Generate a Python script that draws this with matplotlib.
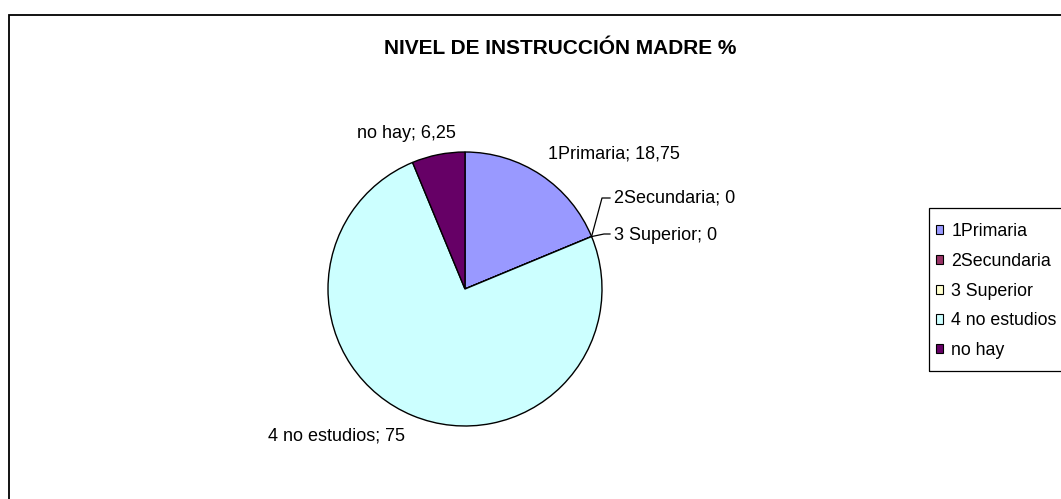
import numpy as np
import matplotlib
matplotlib.use("Agg")
import matplotlib.pyplot as plt
from matplotlib.patches import Patch, Rectangle

plt.rcParams['font.family'] = ['Liberation Sans', 'DejaVu Sans']

# data
categorias = ['1Primaria', '2Secundaria', '3 Superior', '4 no estudios', 'no hay']
valores = [18.75, 0, 0, 75, 6.25]
etiquetas_valor = ['18,75', '0', '0', '75', '6,25']
colores = ['#9999FF', '#993366', '#FFFFCC', '#CCFFFF', '#660066']
titulo = 'NIVEL DE INSTRUCCIÓN MADRE %'

W, H = 1061, 499
fig = plt.figure(figsize=(W / 100, H / 100), dpi=100)

def fig_rect(x0, y0, x1, y1, **kw):
    # rectangle given in image pixel coords (y downwards)
    fig.patches.append(Rectangle((x0 / W, 1 - y1 / H), (x1 - x0) / W, (y1 - y0) / H,
                                 transform=fig.transFigure, fill=False,
                                 edgecolor='black', **kw))

# outer chart border (right/bottom edges fall outside the image)
fig_rect(8.5, 15, 1200, 600, linewidth=1.3)

# pie axes: center (465, 289) px, radius 137 px
cx, cy, r = 465, 289, 137
ax = fig.add_axes([(cx - r) / W, (H - cy - r) / H, 2 * r / W, 2 * r / H])

wedges, _ = ax.pie(valores, colors=colores, startangle=90, counterclock=False,
                   radius=1, wedgeprops=dict(edgecolor='black', linewidth=1))
for w in wedges:
    w.set_clip_on(False)
ax.set_xlim(-1, 1)
ax.set_ylim(-1, 1)
ax.set_aspect('equal')
ax.axis('off')

def px(x, y):
    return (x - cx) / r, (cy - y) / r

# label positions (pixel coords in the image)
pos = {
    '1Primaria': (548, 154),
    '2Secundaria': (614, 198),
    '3 Superior': (614, 235),
    '4 no estudios': (268, 436),
    'no hay': (357, 134),
}
for cat, val in zip(categorias, etiquetas_valor):
    x, y = px(*pos[cat])
    ax.text(x, y, f'{cat}; {val}', ha='left', va='center', fontsize=13, clip_on=False)

# leader lines for the zero slices
ang = np.deg2rad(90 - 360 * sum(valores[:1]) / sum(valores))
ex, ey = np.cos(ang), np.sin(ang)
x1, y1 = px(602, 198)
x2, y2 = px(610, 198)
ax.plot([ex, x1, x2], [ey, y1, y2], color='black', linewidth=0.9, clip_on=False)
x3, y3 = px(604, 234)
x4, y4 = px(610, 234)
ax.plot([ex, x3, x4], [ey, y3, y4], color='black', linewidth=0.9, clip_on=False)

fig.text(560 / W, 1 - 48 / H, titulo, ha='center', va='center',
         fontsize=15, fontweight='bold')

# legend (frame drawn separately)
handles = [Patch(facecolor=c, edgecolor='black', linewidth=0.8) for c in colores]
leg = fig.legend(handles, categorias, loc='upper left',
                 bbox_to_anchor=(936 / W, 1 - 223 / H), fontsize=12.8,
                 frameon=False, handlelength=0.42, handleheight=0.42,
                 handletextpad=0.45, labelspacing=0.72, borderpad=0,
                 borderaxespad=0)
fig_rect(929, 208, 1100, 371, linewidth=0.9)

fig.savefig('out.png', dpi=100)
